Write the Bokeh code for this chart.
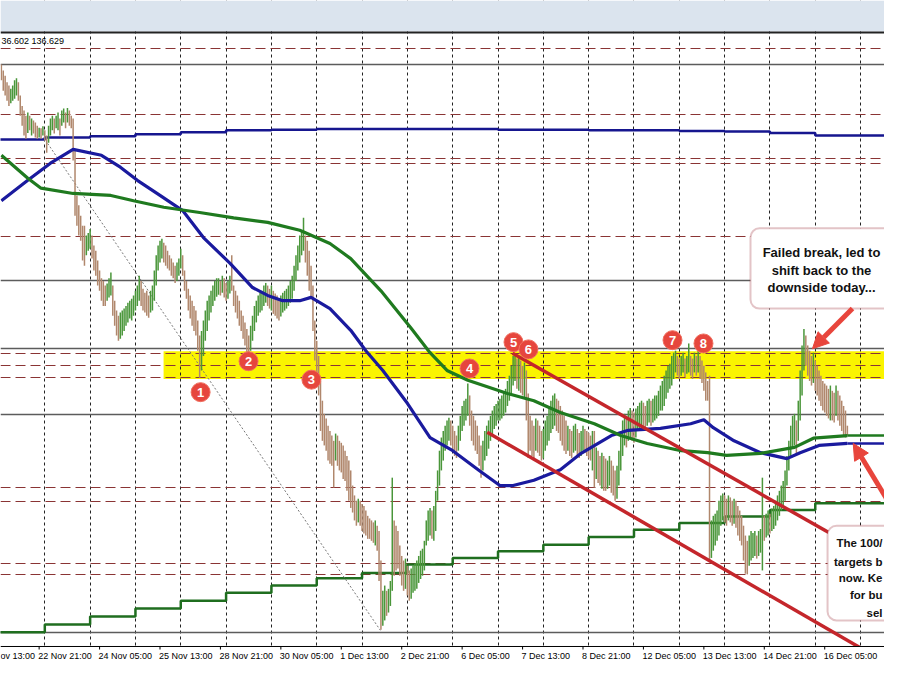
from bokeh.plotting import figure
from bokeh.models import BoxAnnotation, Label, Arrow, NormalHead, Span
from bokeh.core.properties import value
from bokeh.embed import file_html
from bokeh.resources import INLINE

# ---------------- data (bar index: 0 = 21 Nov 00:00, one bar per hour, trading days only)
FIRST_BAR = 25
HIGH = [
    142.25, 142.16, 142.08, 141.98, 141.93, 141.88, 141.93, 142.01, 142.04, 141.98,
    141.78, 141.62, 141.55, 141.47, 141.52, 141.47, 141.43, 141.40, 141.37, 141.32,
    141.29, 141.28, 141.31, 141.25, 141.17, 141.32, 141.43, 141.47, 141.43, 141.47,
    141.52, 141.43, 141.55, 141.58, 141.52, 141.59, 141.55, 141.47, 141.43, 140.94,
    140.26, 140.11, 139.95, 139.80, 139.80, 139.65, 139.69, 139.75, 139.65, 139.50,
    139.42, 139.27, 139.12, 139.00, 138.96, 138.89, 138.92, 139.00, 139.09, 138.89,
    138.66, 138.51, 138.43, 138.48, 138.51, 138.54, 138.58, 138.63, 138.66, 138.69,
    138.74, 138.81, 138.89, 139.04, 138.96, 138.84, 138.78, 138.81, 138.74, 138.81,
    138.89, 139.12, 139.35, 139.50, 139.57, 139.60, 139.54, 139.50, 139.42, 139.35,
    139.30, 139.24, 139.19, 139.24, 139.30, 139.45, 139.35, 139.12, 138.96, 138.84,
    138.74, 138.66, 138.58, 138.51, 138.36, 138.13, 138.20, 138.36, 138.51, 138.66,
    138.74, 138.81, 138.89, 138.96, 139.00, 139.00, 138.96, 139.04, 139.00, 138.93,
    138.96, 139.04, 139.35, 138.89, 138.81, 138.74, 138.66, 138.51, 138.43, 138.33,
    138.23, 138.13, 138.28, 138.43, 138.58, 138.66, 138.74, 138.78, 138.81, 138.89,
    138.93, 138.89, 138.84, 138.89, 138.81, 138.77, 138.74, 138.69, 138.74, 138.78,
    138.81, 138.84, 138.89, 138.96, 139.04, 139.19, 139.35, 139.50, 139.65, 139.72,
    139.92, 139.65, 139.57, 139.42, 139.19, 138.89, 138.36, 138.05, 137.82, 137.44,
    137.14, 136.94, 136.87, 136.76, 136.68, 136.61, 136.53, 136.64, 136.61, 136.53,
    136.50, 136.46, 136.38, 136.30, 136.23, 136.08, 135.85, 135.70, 135.62, 135.65,
    135.62, 135.57, 135.54, 135.47, 135.39, 135.35, 135.32, 135.29, 135.32, 135.24,
    135.16, 134.71, 134.25, 134.33, 134.25, 134.28, 134.40, 135.97, 135.32, 135.24,
    135.16, 134.94, 134.78, 134.71, 134.74, 134.63, 134.56, 134.59, 134.63, 134.66,
    134.71, 134.78, 134.86, 134.89, 135.01, 135.32, 135.47, 135.51, 135.47, 135.54,
    135.77, 136.08, 136.38, 136.58, 136.68, 136.76, 136.84, 136.88, 136.84, 136.76,
    136.68, 136.61, 136.76, 136.91, 137.06, 137.14, 137.17, 137.40, 137.22, 136.99,
    136.91, 136.84, 136.76, 136.61, 136.46, 136.53, 136.68, 136.76, 136.84, 136.91,
    136.99, 137.06, 137.09, 137.14, 137.17, 137.22, 137.26, 137.32, 137.44, 137.52,
    137.67, 137.82, 137.85, 137.78, 137.82, 137.75, 137.67, 137.72, 137.60, 137.25,
    136.91, 136.84, 136.76, 136.87, 136.84, 136.76, 136.68, 136.71, 136.84, 136.91,
    137.02, 137.14, 137.22, 137.25, 137.17, 137.14, 137.06, 136.99, 136.91, 136.84,
    136.76, 136.71, 136.68, 136.76, 136.79, 136.71, 136.65, 136.68, 136.76, 136.71,
    136.68, 136.65, 136.61, 136.68, 136.68, 136.43, 136.38, 136.30, 136.35, 136.30,
    136.26, 136.23, 136.30, 136.23, 136.15, 136.08, 136.15, 136.38, 136.61, 136.84,
    136.94, 136.91, 136.99, 137.03, 136.99, 136.96, 137.02, 137.06, 137.11, 137.14,
    137.11, 137.06, 137.14, 137.17, 137.14, 137.17, 137.22, 137.22, 137.29, 137.37,
    137.44, 137.52, 137.60, 137.67, 137.70, 137.82, 137.87, 137.90, 137.82, 137.78,
    137.82, 137.87, 137.78, 137.82, 138.01, 137.82, 137.78, 137.87, 137.82, 137.90,
    137.82, 137.75, 137.67, 137.57, 137.44, 137.52, 135.32, 135.39, 135.42, 135.47,
    135.62, 135.70, 135.73, 135.70, 135.65, 135.70, 135.67, 135.62, 135.65, 135.62,
    135.54, 135.47, 135.39, 135.24, 135.09, 135.01, 135.09, 135.16, 135.13, 135.16,
    135.09, 135.16, 135.19, 135.97, 135.39, 135.42, 135.47, 135.42, 135.50, 135.54,
    135.62, 135.70, 135.77, 135.85, 135.92, 136.08, 136.30, 136.53, 136.76, 136.91,
    136.94, 136.84, 137.14, 137.60, 137.98, 138.23, 138.13, 137.98, 137.90, 137.82,
    137.87, 137.75, 137.67, 137.60, 137.52, 137.44, 137.40, 137.37, 137.32, 137.37,
    137.29, 137.26, 137.37, 137.29, 137.22, 137.14, 137.06, 136.99, 136.76,
]
LOW = [
    142.01, 141.85, 141.78, 141.70, 141.62, 141.66, 141.70, 141.73, 141.78, 141.70,
    141.47, 141.32, 141.17, 141.12, 141.21, 141.25, 141.17, 141.20, 141.14, 141.12,
    141.14, 141.12, 141.17, 141.09, 140.91, 141.06, 141.17, 141.25, 141.20, 141.28,
    141.25, 141.17, 141.32, 141.37, 141.28, 141.37, 141.32, 141.28, 140.79, 139.95,
    139.80, 139.65, 139.57, 139.27, 139.19, 139.35, 139.42, 139.45, 139.30, 139.12,
    139.04, 138.89, 138.81, 138.66, 138.58, 138.58, 138.66, 138.71, 138.74, 138.43,
    138.28, 138.13, 138.05, 138.08, 138.13, 138.20, 138.28, 138.33, 138.39, 138.36,
    138.43, 138.51, 138.58, 138.66, 138.58, 138.51, 138.48, 138.43, 138.40, 138.48,
    138.51, 138.66, 138.89, 139.12, 139.24, 139.30, 139.24, 139.19, 139.15, 139.12,
    139.04, 139.00, 138.93, 138.96, 139.04, 139.15, 139.04, 138.81, 138.69, 138.51,
    138.39, 138.28, 138.20, 138.13, 137.90, 137.49, 137.60, 137.82, 138.05, 138.20,
    138.36, 138.48, 138.58, 138.66, 138.72, 138.75, 138.74, 138.78, 138.71, 138.66,
    138.69, 138.77, 138.81, 138.58, 138.48, 138.39, 138.28, 138.20, 138.08, 137.98,
    137.82, 137.79, 137.90, 138.05, 138.20, 138.33, 138.43, 138.48, 138.51, 138.58,
    138.63, 138.58, 138.54, 138.51, 138.46, 138.43, 138.39, 138.36, 138.42, 138.48,
    138.51, 138.54, 138.58, 138.63, 138.69, 138.81, 138.96, 139.12, 139.24, 139.35,
    139.42, 139.24, 139.04, 138.81, 138.71, 138.20, 137.75, 137.47, 137.22, 136.68,
    136.53, 136.46, 136.38, 136.23, 136.18, 136.15, 135.82, 136.23, 136.15, 136.08,
    136.05, 135.95, 135.92, 135.77, 135.62, 135.51, 135.44, 135.32, 135.24, 135.29,
    135.24, 135.16, 135.12, 135.09, 135.04, 135.04, 135.01, 134.98, 134.94, 134.86,
    134.40, 133.66, 133.72, 133.80, 133.87, 133.92, 134.02, 134.25, 134.48, 134.56,
    134.59, 134.48, 134.33, 134.25, 134.28, 134.18, 134.10, 134.13, 134.22, 134.25,
    134.28, 134.37, 134.43, 134.48, 134.56, 134.94, 135.01, 135.09, 135.04, 135.01,
    135.16, 135.62, 135.85, 136.08, 136.23, 136.38, 136.46, 136.53, 136.46, 136.38,
    136.30, 136.27, 136.38, 136.53, 136.68, 136.76, 136.84, 136.91, 136.76, 136.53,
    136.46, 136.38, 136.33, 136.15, 135.97, 136.08, 136.23, 136.30, 136.41, 136.53,
    136.61, 136.71, 136.76, 136.84, 136.84, 136.87, 136.91, 136.96, 137.06, 137.14,
    137.22, 137.37, 137.44, 137.32, 137.29, 137.26, 137.22, 137.17, 136.84, 136.27,
    136.38, 136.30, 136.27, 136.38, 136.35, 136.30, 136.23, 136.26, 136.38, 136.46,
    136.53, 136.65, 136.71, 136.76, 136.68, 136.65, 136.53, 136.46, 136.38, 136.33,
    136.38, 136.30, 136.27, 136.35, 136.38, 136.30, 136.27, 136.30, 136.38, 136.35,
    136.30, 136.26, 136.23, 136.08, 135.82, 135.95, 135.89, 135.85, 135.80, 135.77,
    135.77, 135.80, 135.85, 135.74, 135.70, 135.62, 135.65, 135.85, 136.08, 136.30,
    136.46, 136.43, 136.53, 136.56, 136.53, 136.50, 136.58, 136.68, 136.71, 136.76,
    136.71, 136.68, 136.76, 136.81, 136.76, 136.81, 136.84, 136.87, 136.91, 136.99,
    136.99, 137.06, 137.17, 137.26, 137.32, 137.37, 137.47, 137.57, 137.52, 137.47,
    137.52, 137.57, 137.50, 137.55, 137.57, 137.52, 137.47, 137.57, 137.52, 137.57,
    137.47, 137.41, 137.29, 137.14, 137.14, 134.71, 134.75, 134.86, 134.94, 135.01,
    135.09, 135.24, 135.32, 135.29, 135.24, 135.32, 135.29, 135.24, 135.27, 135.21,
    135.09, 135.01, 134.94, 134.71, 134.51, 134.50, 134.63, 134.71, 134.75, 134.78,
    134.74, 134.78, 134.83, 134.56, 135.01, 135.06, 135.09, 135.12, 135.16, 135.19,
    135.24, 135.32, 135.39, 135.47, 135.54, 135.62, 135.85, 136.08, 136.30, 136.41,
    136.46, 136.33, 136.53, 136.84, 137.22, 137.60, 137.67, 137.52, 137.44, 137.37,
    137.41, 137.29, 137.22, 137.14, 137.06, 136.99, 136.96, 136.91, 136.87, 136.84,
    136.84, 136.81, 136.91, 136.84, 136.76, 136.68, 136.61, 136.58, 136.61,
]
DIR = ("ddddd uuuud ddddu duddd udud d uuudu uduud udddd ddddd uuudd ddddd duuud ddduu "
       "uuuuu uuuud ddddu uuuuu udddd ddduu udddd ddddd duuuu uuuuu ududd uuddd ddddd "
       "dduuu uuuuu uddud ddduu uuuuu uuuuu udddd ddddd ddddd ddudd ddddd ddddu ddddd "
       "dddud dduud uuudd ddddu dduuu uuuuu uuudu uuuuu uuudd dduuu uuudd ddddd uuuuu "
       "uuuuu uuuuu uuudu ddudd dddud dduuu uuuud ddddd udduu dduud dddud uddud duudd "
       "duuuu uduud duuuu dduud uuuuu uuuuu uuudd uuduu ddudu ddddd duuuu uuudd uddud "
       "ddddd duuuu duuud uuduu uuuuu uuuuu uduuu udddd udddd ddddu ddudd dddd").replace(" ", "")

# hourly moving averages (blue = 100 hour, green = 200 hour)
MA100_BAR = [25, 39, 51, 63, 78, 88, 97, 109, 121, 132, 146, 158, 166, 174, 183, 189, 199, 210,
             218, 227, 240, 252, 264, 278, 289, 296, 307, 321, 332, 348, 357, 374, 390, 397,
             402, 413, 427, 441, 448, 458, 473]
MA100_VAL = [140.18, 140.49, 140.75, 140.96, 140.87, 140.69, 140.49, 140.26, 140.03, 139.62,
             139.23, 138.86, 138.74, 138.66, 138.66, 138.71, 138.54, 138.21, 137.90, 137.60,
             137.10, 136.58, 136.38, 136.08, 135.85, 135.85, 135.93, 136.09, 136.34, 136.61,
             136.69, 136.72, 136.79, 136.85, 136.73, 136.53, 136.35, 136.26, 136.35, 136.46,
             136.49]
MA200_BAR = [25, 39, 46, 63, 83, 95, 111, 130, 148, 166, 183, 199, 210, 226, 242, 252, 261, 272,
             293, 307, 321, 339, 353, 367, 385, 399, 409, 427, 445, 455, 473]
MA200_VAL = [140.87, 140.52, 140.37, 140.29, 140.26, 140.18, 140.08, 140.00, 139.92, 139.85,
             139.73, 139.53, 139.30, 138.81, 138.24, 137.87, 137.60, 137.45, 137.25, 137.14,
             136.96, 136.79, 136.61, 136.49, 136.38, 136.35, 136.31, 136.34, 136.43, 136.57,
             136.61]

# daily moving averages drawn on the hourly chart (one value per day, 22 Nov .. 16 Dec)
DAY_START = [24, 48, 72, 96, 120, 144, 168, 192, 216, 240, 264, 288, 312, 336, 360, 384,
             408, 432, 456, 480]
DAILY_MA_BLUE = [141.11, 141.14, 141.16, 141.19, 141.22, 141.25, 141.26, 141.27, 141.27,
                 141.27, 141.27, 141.26, 141.26, 141.25, 141.25, 141.24, 141.23, 141.21, 141.17]
DAILY_MA_GREEN = [133.62, 133.74, 133.86, 133.98, 134.10, 134.22, 134.33, 134.44, 134.52,
                  134.65, 134.75, 134.85, 134.95, 135.07, 135.18, 135.28, 135.38, 135.48, 135.58]

TICK_BARS = [45, 77, 109, 141, 173, 205, 237, 269, 301, 333, 365, 397, 429, 461]
TICK_LABELS = ["22 Nov 21:00", "24 Nov 05:00", "25 Nov 13:00", "28 Nov 21:00", "30 Nov 05:00",
               "1 Dec 13:00", "2 Dec 21:00", "6 Dec 05:00", "7 Dec 13:00", "8 Dec 21:00",
               "12 Dec 05:00", "13 Dec 13:00", "14 Dec 21:00", "16 Dec 05:00"]
EDGE_LABEL = "ov 13:00"     # visible part of the "21 Nov 13:00" label at the left edge

SOLID_LEVELS = [142.25, 138.97, 137.94, 136.93, 133.62]
DASHED_LEVELS = [142.49, 141.49, 140.82, 140.75, 139.63, 137.86, 137.67, 137.49,
                 135.82, 135.61, 134.66, 134.50]
ZONE_LOW, ZONE_HIGH, ZONE_FROM = 137.47, 137.89, 110.9

CHANNEL_UPPER_X, CHANNEL_UPPER_Y = [295.7, 501.0], [137.86, 134.52]
CHANNEL_LOWER_X, CHANNEL_LOWER_Y = [282.3, 500.0], [136.66, 133.05]
TREND_X, TREND_Y = [49.5, 225.7], [141.05, 133.65]

MARK_BAR = [130.5, 155.9, 189.2, 272.9, 296.2, 304.1, 380.4, 396.8]
MARK_PRICE = [137.27, 137.74, 137.46, 137.63, 138.03, 137.92, 138.06, 138.01]
MARK_TEXT = ["1", "2", "3", "4", "5", "6", "7", "8"]

NOTE1 = ["Failed break, led to", "shift back to the", "downside today..."]
NOTE2 = ["The 100/", "targets b", "now. Ke", "for bu", "sel"]
HEADER = "36.602 136.629"

# ---------------- figure (the frame also holds the time-label strip under the price area)
X0, X1 = 24.54, 492.66
Y0, Y1 = 133.191, 143.223
Y_AXIS = 133.404          # bottom edge of the price area
Y_TICK_END = 133.358
Y_TIME_LABEL = 133.267
X_END = 505

p = figure(frame_width=884, frame_height=660, x_range=(X0, X1), y_range=(Y0, Y1),
           min_border=0, x_axis_location=None, y_axis_location=None,
           toolbar_location=None, output_backend="svg",
           background_fill_color="white", border_fill_color="white")
p.outline_line_color = None
p.xgrid.visible = False
p.ygrid.visible = False

# support zone
p.quad(left=[ZONE_FROM], right=[X_END], bottom=[ZONE_LOW], top=[ZONE_HIGH],
       fill_color="#faf400", line_color=None)

# day separators (dotted grid)
p.vspan(x=DAY_START, line_color="#222222", line_dash="3 3", line_width=1)

# horizontal levels
p.hspan(y=SOLID_LEVELS, line_color="#5c5c5c", line_width=1.3)
p.hspan(y=DASHED_LEVELS, line_color="#8a3434", line_width=1.2, line_dash="10 5")

# daily MAs (stepped)
p.step(x=DAY_START[:len(DAILY_MA_BLUE)] + [X_END], y=DAILY_MA_BLUE + [DAILY_MA_BLUE[-1]],
       mode="after", line_color="#16168f", line_width=2.5)
p.step(x=DAY_START[:len(DAILY_MA_GREEN)] + [X_END], y=DAILY_MA_GREEN + [DAILY_MA_GREEN[-1]],
       mode="after", line_color="#1f6e1f", line_width=2.5)

# dotted trend line
p.line(TREND_X, TREND_Y, line_color="#777777", line_dash="2 2", line_width=1)

# candles (thin hourly bars)
bars = list(range(FIRST_BAR, FIRST_BAR + len(HIGH)))
colors = ["#4a963a" if d == "u" else "#b0876c" for d in DIR]
p.segment(x0=bars, y0=LOW, x1=bars, y1=HIGH, line_color=colors, line_width=1.5)

# hourly MAs
p.line(MA100_BAR, MA100_VAL, line_color="#1a1a9e", line_width=3.2)
p.line(MA200_BAR, MA200_VAL, line_color="#1f7a1f", line_width=3.2)
p.segment(x0=[MA100_BAR[-1]], y0=[MA100_VAL[-1]], x1=[X_END], y1=[MA100_VAL[-1]],
          line_color="#1a1a9e", line_width=2.5)
p.segment(x0=[MA200_BAR[-1]], y0=[MA200_VAL[-1]], x1=[X_END], y1=[MA200_VAL[-1]],
          line_color="#1f7a1f", line_width=2.5)

# channel
p.line(CHANNEL_UPPER_X, CHANNEL_UPPER_Y, line_color="#c4262b", line_width=3.5)
p.line(CHANNEL_LOWER_X, CHANNEL_LOWER_Y, line_color="#c4262b", line_width=3.5)

# numbered markers
p.scatter(MARK_BAR, MARK_PRICE, size=19, fill_color="#e6463d", line_color="#f07060",
          line_width=1)
p.text(MARK_BAR, MARK_PRICE, text=MARK_TEXT, text_align="center", text_baseline="middle",
       text_color="white", text_font=value("Liberation Sans"), text_font_size="13px",
       text_font_style="bold")

# window chrome band and chart top border
p.add_layout(BoxAnnotation(bottom=142.752, fill_color="#dbe4ee", fill_alpha=1,
                           line_color=None))
p.add_layout(BoxAnnotation(bottom=142.722, top=142.752, fill_color="#222222", fill_alpha=1,
                           line_color=None))
p.add_layout(Label(x=1, y=142.60, x_units="screen", y_units="data", text=HEADER,
                   text_align="left", text_baseline="middle", text_font="Liberation Sans",
                   text_font_size="9px", text_color="black"))

# time-axis strip
p.add_layout(BoxAnnotation(top=Y_AXIS, fill_color="white", fill_alpha=1, line_color=None))
p.add_layout(Span(location=Y_AXIS, dimension="width", line_color="black", line_width=1))
for t, s in zip(TICK_BARS, TICK_LABELS):
    p.add_layout(BoxAnnotation(left=t - 0.27, right=t + 0.27, top=Y_AXIS, bottom=Y_TICK_END,
                               fill_color="black", fill_alpha=1, line_color=None))
    p.add_layout(Label(x=t, y=Y_TIME_LABEL, text=s, x_offset=-1,
                       text_align="left", text_baseline="middle",
                       text_font="Liberation Sans", text_font_size="9px",
                       text_color="black"))
p.add_layout(Label(x=0, y=Y_TIME_LABEL, x_units="screen", y_units="data", text=EDGE_LABEL,
                   text_align="left", text_baseline="middle",
                   text_font="Liberation Sans", text_font_size="9px", text_color="black"))

# callout boxes
p.add_layout(BoxAnnotation(left=421.7, right=530, top=139.76, bottom=138.54,
                           fill_color="white", fill_alpha=1, line_color="#a23a45",
                           line_width=2, border_radius=9))
p.add_layout(BoxAnnotation(left=462.5, right=540, top=135.24, bottom=133.80,
                           fill_color="white", fill_alpha=1, line_color="#a23a45",
                           line_width=2, border_radius=9))
for txt, yy in zip(NOTE1, [139.39, 139.12, 138.86]):
    p.add_layout(Label(x=459.3, y=yy, text=txt, text_align="center", text_baseline="middle",
                       text_font="Liberation Sans", text_font_style="bold",
                       text_font_size="13px", text_color="#111111"))
for txt, yy in zip(NOTE2, [134.97, 134.69, 134.44, 134.18, 133.92]):
    p.add_layout(Label(x=491.6, y=yy, text=txt, text_align="right", text_baseline="middle",
                       text_font="Liberation Sans", text_font_style="bold",
                       text_font_size="11.5px", text_color="#111111"))

# arrows
p.add_layout(Arrow(end=NormalHead(size=16, fill_color="#e8453c", line_color="#e8453c"),
                   x_start=475.7, y_start=138.54, x_end=454.5, y_end=137.93,
                   line_color="#e8453c", line_width=5))
p.add_layout(Arrow(end=NormalHead(size=16, fill_color="#e8453c", line_color="#e8453c"),
                   x_start=499.0, y_start=135.40, x_end=476.1, y_end=136.49,
                   line_color="#e8453c", line_width=5))

open("out.html", "w").write(file_html(p, INLINE))
